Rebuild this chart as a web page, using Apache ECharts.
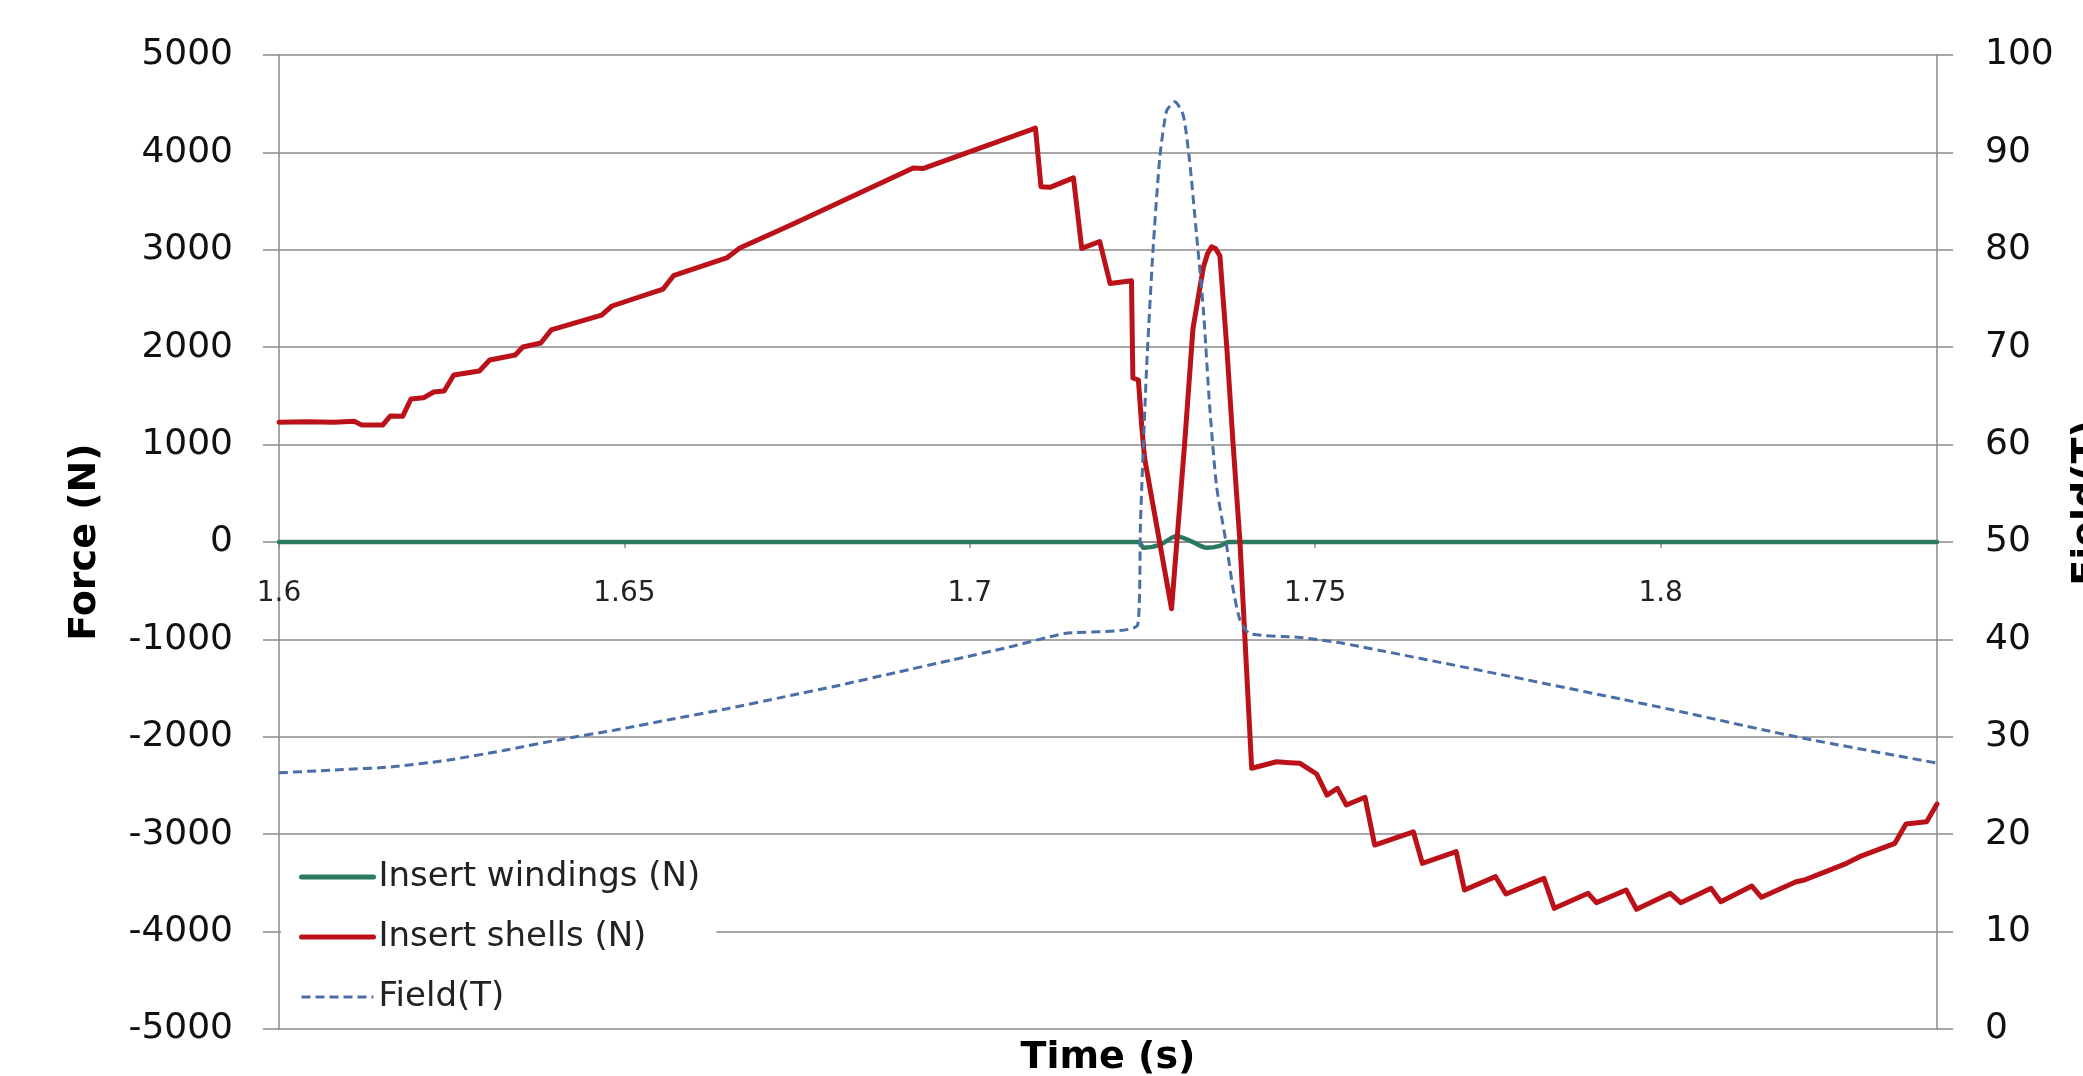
<!DOCTYPE html>
<html>
<head>
<meta charset="utf-8">
<script src="https://cdn.jsdelivr.net/npm/echarts@6/dist/echarts.min.js"></script>
<style>
  html, body { margin: 0; padding: 0; background: #ffffff; overflow: hidden; }
  #chart { width: 2083px; height: 1076px; }
</style>
</head>
<body>
<div id="chart"></div>
<script>
// ---- data ----
const seriesNames = ['Insert windings (N)', 'Insert shells (N)', 'Field(T)'];
const axisTitles = { x: 'Time (s)', yLeft: 'Force (N)', yRight: 'Field(T)' };

const timeWindings  = [1.6000, 1.7244, 1.7252, 1.7275, 1.7299, 1.7320, 1.7343, 1.7362, 1.7375, 1.8400];
const forceWindings = [0, 0, -60, -30, 60, 10, -60, -40, 0, 0];

const timeShells = [
  1.6000, 1.6040, 1.6080, 1.6109, 1.6120, 1.6150, 1.6161, 1.6179, 1.6191, 1.6209,
  1.6224, 1.6239, 1.6253, 1.6290, 1.6305, 1.6342, 1.6353, 1.6379, 1.6394, 1.6467,
  1.6482, 1.6556, 1.6571, 1.6648, 1.6667, 1.6741, 1.6918, 1.6933, 1.7095, 1.7103,
  1.7116, 1.7150, 1.7162, 1.7188, 1.7203, 1.7234, 1.7236, 1.7244, 1.7249, 1.7253,
  1.7292, 1.7311, 1.7323, 1.7338, 1.7344, 1.7350, 1.7356, 1.7362, 1.7372, 1.7381,
  1.7391, 1.7408, 1.7444, 1.7463, 1.7478, 1.7502, 1.7517, 1.7532, 1.7545, 1.7572,
  1.7586, 1.7642, 1.7655, 1.7704, 1.7716, 1.7761, 1.7776, 1.7831, 1.7846, 1.7895,
  1.7907, 1.7950, 1.7965, 1.8014, 1.8029, 1.8073, 1.8087, 1.8132, 1.8146, 1.8196,
  1.8208, 1.8239, 1.8269, 1.8288, 1.8339, 1.8355, 1.8385, 1.8400
];
const forceShells = [
  1230, 1235, 1230, 1240, 1200, 1200, 1293, 1290, 1468, 1480,
  1540, 1550, 1714, 1756, 1868, 1920, 2002, 2043, 2177, 2330,
  2423, 2597, 2734, 2916, 3018, 3255, 3840, 3835, 4250, 3648,
  3641, 3739, 3014, 3085, 2654, 2682, 1684, 1663, 1173, 860,
  -685, 1016, 2192, 2818, 2960, 3030, 3010, 2936, 1996, 1016,
  0, -2323, -2256, -2266, -2272, -2382, -2598, -2529, -2700, -2621,
  -3111, -2975, -3299, -3179, -3573, -3436, -3614, -3453, -3761, -3607,
  -3703, -3573, -3771, -3607, -3703, -3556, -3693, -3532, -3648, -3488,
  -3470, -3384, -3299, -3231, -3094, -2895, -2872, -2690
];

const timeField = [
  1.6000, 1.6081, 1.6162, 1.6244, 1.6325, 1.6406, 1.6487, 1.6568, 1.6650, 1.6731,
  1.6812, 1.6893, 1.6975, 1.7056, 1.7137, 1.7243, 1.7247, 1.7256, 1.7265, 1.7275,
  1.7285, 1.7297, 1.7309, 1.7318, 1.7328, 1.7338, 1.7347, 1.7357, 1.7372, 1.7381,
  1.7391, 1.7405, 1.7478, 1.7540, 1.7782, 1.7995, 1.8196, 1.8400
];
const fieldTesla = [
  26.3, 26.6, 26.9, 27.6, 28.6, 29.7, 30.7, 31.8, 32.9, 34.1,
  35.3, 36.6, 37.9, 39.2, 40.6, 41.5, 52.0, 68.1, 79.8, 89.5,
  94.3, 95.2, 93.8, 89.2, 81.7, 73.9, 64.1, 55.8, 49.5, 45.2,
  42.0, 40.6, 40.2, 39.6, 36.2, 33.1, 30.0, 27.3
];

const zip = (xs, ys) => xs.map((x, i) => [x, ys[i]]);

const FONT = 'DejaVu Sans';
const GRID_GRAY = '#8a8a8a';
const COLORS = ['#2b7a5d', '#bb1219', '#4a6ea6'];

const W = 2083, H = 1076;
const GRID = { left: 279, right: 146, top: 55, bottom: 47 };
const plotH = H - GRID.top - GRID.bottom;

const chart = echarts.init(document.getElementById('chart'), null, { renderer: 'canvas' });
chart.setOption({
  animation: false,
  backgroundColor: '#ffffff',
  grid: {
    left: GRID.left, right: GRID.right, top: GRID.top, bottom: GRID.bottom,
    containLabel: false,
    outerBoundsMode: 'none'
  },
  legend: {
    orient: 'vertical',
    left: 281,
    top: 845,
    itemWidth: 72,
    itemHeight: 2,
    itemGap: 20,
    padding: [12, 16, 5, 18],
    backgroundColor: '#ffffff',
    itemStyle: { opacity: 0 },
    textStyle: { fontFamily: FONT, fontSize: 34, color: '#222222', lineHeight: 40 },
    data: [
      { name: seriesNames[0], lineStyle: { width: 5 } },
      { name: seriesNames[1], lineStyle: { width: 5 } },
      { name: seriesNames[2], lineStyle: { width: 3 } }
    ]
  },
  graphic: [
    {
      type: 'text',
      x: 2088,
      y: 503,
      rotation: Math.PI / 2,
      silent: true,
      style: {
        text: axisTitles.yRight,
        fontFamily: FONT,
        fontWeight: 'bold',
        fontSize: 38,
        fill: '#000000',
        align: 'center',
        verticalAlign: 'middle'
      }
    }
  ],
  xAxis: [
    {
      type: 'value',
      position: 'bottom',
      offset: -plotH / 2,
      min: 1.6,
      max: 1.84,
      interval: 0.05,
      axisLine: { onZero: false, lineStyle: { color: GRID_GRAY, width: 1.5 } },
      axisTick: { show: true, length: 6, lineStyle: { color: GRID_GRAY, width: 1.5 } },
      axisLabel: {
        fontFamily: FONT, fontSize: 28, color: '#222222', margin: 38,
        showMaxLabel: false
      },
      splitLine: { show: false }
    },
    {
      type: 'value',
      position: 'bottom',
      min: 1.6,
      max: 1.84,
      axisLine: { show: false, onZero: false },
      axisTick: { show: false },
      axisLabel: { show: false },
      splitLine: { show: false },
      name: axisTitles.x,
      nameLocation: 'middle',
      nameGap: 10,
      nameTextStyle: { fontFamily: FONT, fontWeight: 'bold', fontSize: 38, color: '#000000' }
    }
  ],
  yAxis: [
    {
      type: 'value',
      position: 'left',
      min: -5000,
      max: 5000,
      interval: 1000,
      name: axisTitles.yLeft,
      nameLocation: 'middle',
      nameRotate: 90,
      nameGap: 175,
      nameTextStyle: { fontFamily: FONT, fontWeight: 'bold', fontSize: 38, color: '#000000' },
      axisLine: { show: true, onZero: false, lineStyle: { color: GRID_GRAY, width: 1.5 } },
      axisTick: { show: true, inside: false, length: 16, lineStyle: { color: GRID_GRAY, width: 1.5 } },
      axisLabel: {
        fontFamily: FONT, fontSize: 36, color: '#111111', margin: 46,
        formatter: (v) => String(v)
      },
      splitLine: { show: true, lineStyle: { color: GRID_GRAY, width: 1.5 } }
    },
    {
      type: 'value',
      position: 'right',
      min: 0,
      max: 100,
      interval: 10,
      axisLine: { show: true, onZero: false, lineStyle: { color: GRID_GRAY, width: 1.5 } },
      axisTick: { show: true, inside: false, length: 16, lineStyle: { color: GRID_GRAY, width: 1.5 } },
      axisLabel: {
        fontFamily: FONT, fontSize: 36, color: '#111111', margin: 48,
        formatter: (v) => String(v)
      },
      splitLine: { show: false }
    }
  ],
  series: [
    {
      name: seriesNames[0],
      type: 'line',
      xAxisIndex: 0,
      yAxisIndex: 0,
      data: zip(timeWindings, forceWindings),
      symbol: 'none',
      smooth: 0.3,
      lineStyle: { color: COLORS[0], width: 4.5, cap: 'round' },
      itemStyle: { color: COLORS[0] },
      z: 3
    },
    {
      name: seriesNames[1],
      type: 'line',
      xAxisIndex: 0,
      yAxisIndex: 0,
      data: zip(timeShells, forceShells),
      symbol: 'none',
      lineStyle: { color: COLORS[1], width: 5, cap: 'round', join: 'round' },
      itemStyle: { color: COLORS[1] },
      z: 4
    },
    {
      name: seriesNames[2],
      type: 'line',
      xAxisIndex: 0,
      yAxisIndex: 1,
      data: zip(timeField, fieldTesla),
      symbol: 'none',
      smooth: 0.2,
      lineStyle: { color: COLORS[2], width: 3, type: [9, 5] },
      itemStyle: { color: COLORS[2] },
      z: 5
    }
  ]
});
</script>
</body>
</html>
